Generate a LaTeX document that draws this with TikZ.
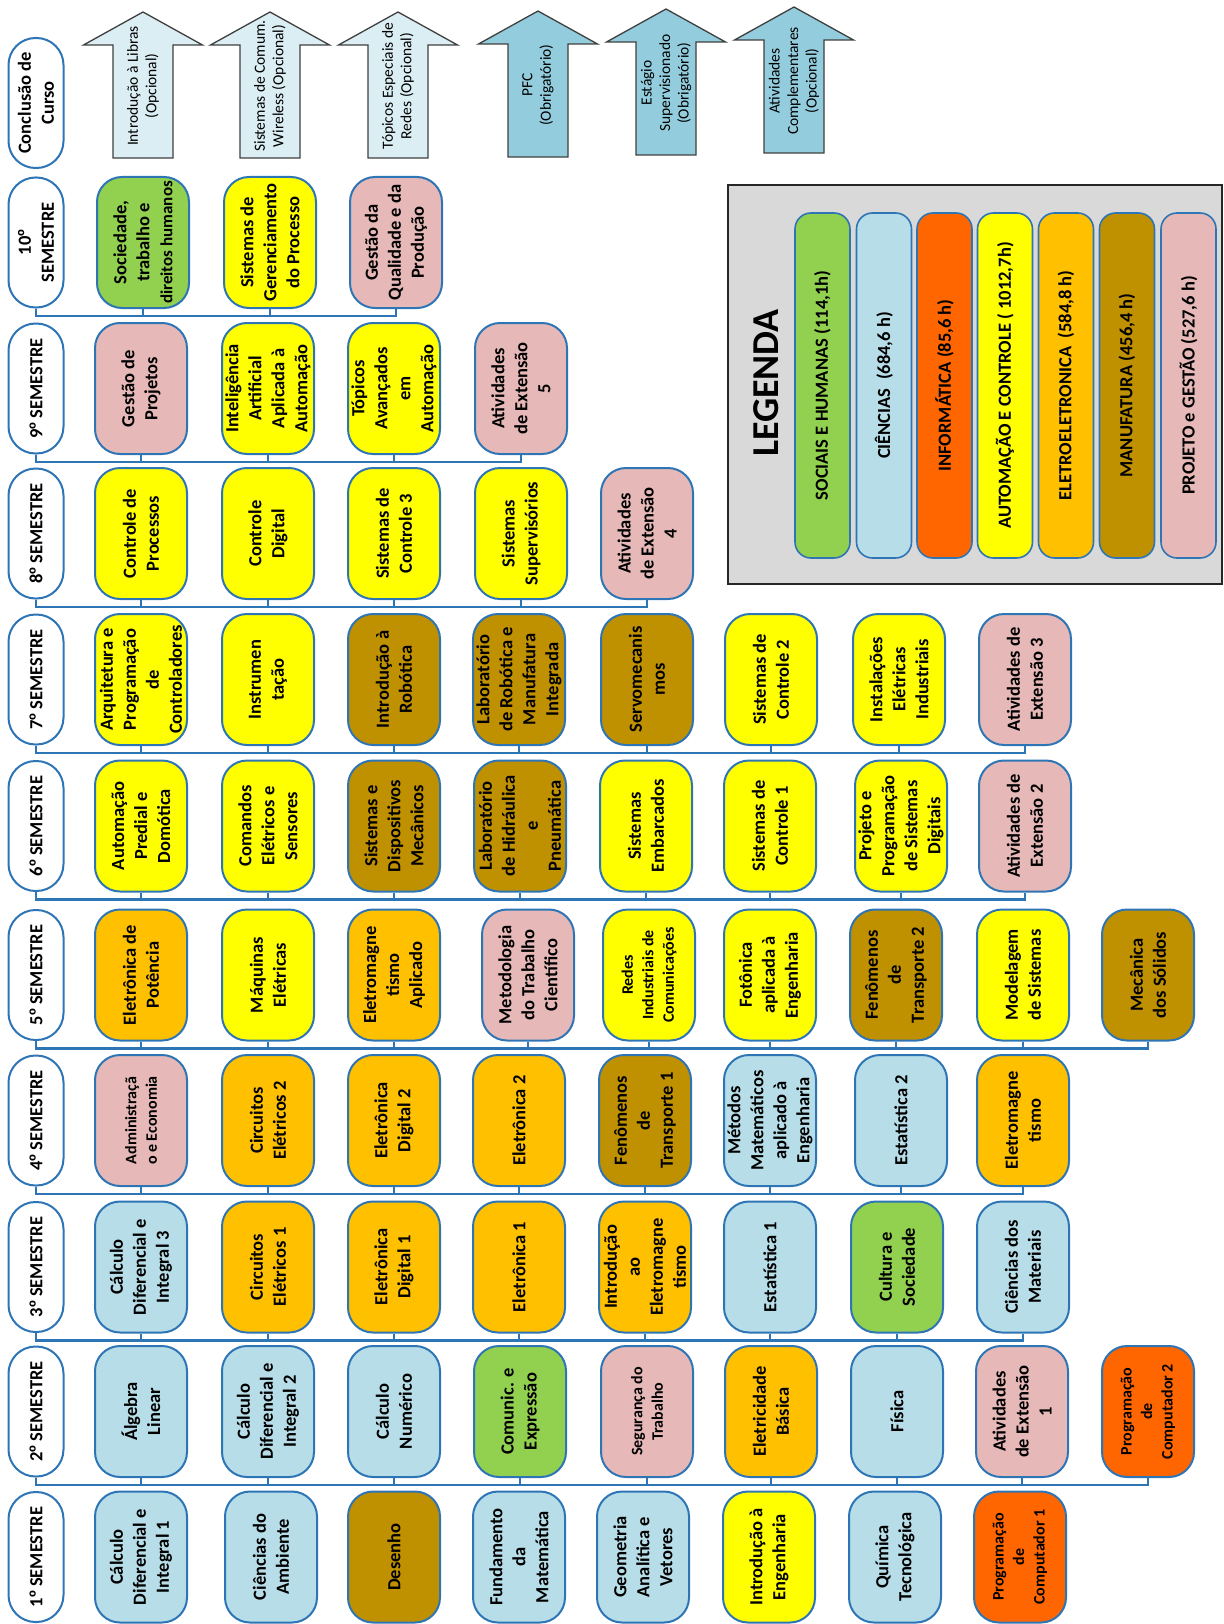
\documentclass[tikz,border=0pt]{standalone}
\usepackage{fontspec}
\setmainfont{Carlito}
\newfontfamily\ordfont{Liberation Sans}
\definecolor{bdr}{HTML}{2E75B6}
\definecolor{cCie}{HTML}{B7DEE8}
\definecolor{cSoc}{HTML}{92D050}
\definecolor{cInf}{HTML}{FF6600}
\definecolor{cAut}{HTML}{FFFF00}
\definecolor{cEle}{HTML}{FFC000}
\definecolor{cMan}{HTML}{BF9000}
\definecolor{cPro}{HTML}{E6B9B8}
\definecolor{cArrL}{HTML}{DBEEF4}
\definecolor{cArrM}{HTML}{93CDDD}
\definecolor{cLeg}{HTML}{D9D9D9}
\definecolor{arrbd}{HTML}{3F3F3F}
\newcommand\fntN{\fontsize{18.5}{23}\selectfont\bfseries}
\newcommand\fntS{\fontsize{16}{20.5}\selectfont\bfseries}
\newcommand\fntA{\fontsize{15.5}{18.5}\selectfont}
\newcommand\fntL{\fontsize{38}{40}\selectfont\bfseries}
\newcommand\fntH{\fontsize{17}{21}\selectfont\bfseries}
\newcommand\ordo{{\ordfont º}}
\tikzset{
  course/.style={draw=bdr, line width=2pt, rounded corners=25pt, rotate=90,
    minimum width=131pt, minimum height=92pt, inner sep=1pt, align=center, font=\fntN},
  bCie/.style={course, fill=cCie},
  bSoc/.style={course, fill=cSoc},
  bInf/.style={course, fill=cInf},
  bAut/.style={course, fill=cAut},
  bEle/.style={course, fill=cEle},
  bMan/.style={course, fill=cMan},
  bPro/.style={course, fill=cPro},
  small/.style={font=\fntS},
  sem/.style={draw=bdr, line width=2pt, fill=white, rounded corners=27pt, rotate=90,
    minimum width=130pt, minimum height=55pt, inner sep=1pt, align=center, font=\fntN},
  conn/.style={draw=bdr, line width=2.2pt},
  arrline/.style={draw=arrbd, line width=1.3pt},
  arrtext/.style={rotate=90, align=center, font=\fntA, inner sep=0pt},
  legbar/.style={draw=bdr, line width=1.6pt, rounded corners=16pt, rotate=90,
    minimum width=345pt, minimum height=55pt, inner sep=1pt, font=\fntN},
}
% #1 name, #2 centre x, #3 fill, #4 text, #5 vertical shift
\newcommand\bigarrow[5]{%
  \draw[arrline, fill=#3] (#2-30,158+#5) -- (#2-30,45+#5) -- (#2-59.5,45+#5) -- (#2,12+#5)
     -- (#2+59.5,45+#5) -- (#2+30,45+#5) -- (#2+30,158+#5) -- cycle;
  \node[arrtext] (#1) at (#2,86+#5) {#4};}
\begin{document}
\begin{tikzpicture}[x=1pt,y=-1pt]
\useasboundingbox (0,0) rectangle (1223,1624);

% ---------- Conclusao de curso ----------
\node[sem] (s11) at (36,103) {Conclusão de\\Curso};
\bigarrow{a1}{143}{cArrL}{Introdução à Libras\\(Opcional)}{0}
\bigarrow{a2}{270}{cArrL}{Sistemas de Comum.\\Wireless (Opcional)}{0}
\bigarrow{a3}{398}{cArrL}{Tópicos Especiais de\\Redes (Opcional)}{0}
\bigarrow{a4}{538}{cArrM}{PFC\\(Obrigatório)}{-1}
\bigarrow{a5}{666}{cArrM}{Estágio\\Supervisionado\\(Obrigatório)}{-3}
\bigarrow{a6}{794}{cArrM}{Atividades\\Complementares\\(Opcional)}{-5}

% ---------- Legend ----------
\node[draw=black!85, line width=2.5pt, fill=cLeg, minimum width=494pt, minimum height=399pt, inner sep=0pt] (legend) at (975,384.5) {};
\node[rotate=90, font=\fntL] (legtitle) at (766,383) {LEGENDA};
\node[legbar, fill=cSoc] (lg1) at (822.5,385.5) {SOCIAIS E HUMANAS (114,1h)};
\node[legbar, fill=cCie] (lg2) at (884,385.5) {CIÊNCIAS~ (684,6 h)};
\node[legbar, fill=cInf] (lg3) at (944.5,385.5) {INFORMÁTICA (85,6 h)};
\node[legbar, fill=cAut] (lg4) at (1005,385.5) {AUTOMAÇÃO E CONTROLE ( 1012,7h)};
\node[legbar, fill=cEle] (lg5) at (1066,385.5) {ELETROELETRONICA~ (584,8 h)};
\node[legbar, fill=cMan] (lg6) at (1127,385.5) {MANUFATURA (456,4 h)};
\node[legbar, fill=cPro] (lg7) at (1188.5,385.5) {PROJETO e GESTÃO (527,6 h)};

% ---------- 10 ----------
\node[sem] (s10) at (36,242.5) {10\ordo\\SEMESTRE};
\node[bSoc] (r10c1) at (143,242.5) {Sociedade,\\trabalho e\\{\fntH direitos humanos}};
\node[bAut] (r10c2) at (270,242.5) {Sistemas de\\Gerenciamento\\do Processo};
\node[bPro] (r10c3) at (396,242.5) {Gestão da\\Qualidade e da\\Produção};
\draw[conn] (s10.west) -- ++(0,7.5) -| (r10c3.west);
\foreach \c in {1,2} \draw[conn] (r10c\c.west) -- ++(0,7.5);

% ---------- 9 ----------
\node[sem] (s9) at (36,388.5) {9\ordo{} SEMESTRE};
\node[bPro] (r9c1) at (141,388.5) {Gestão de\\Projetos};
\node[bAut] (r9c2) at (268,388.5) {Inteligência\\Artificial\\Aplicada à\\Automação};
\node[bAut] (r9c3) at (394,388.5) {Tópicos\\Avançados\\em\\Automação};
\node[bPro] (r9c4) at (521,388.5) {Atividades\\de Extensão\\5};
\draw[conn] (s9.west) -- ++(0,7.5) -| (r9c4.west);
\foreach \c in {1,2,3} \draw[conn] (r9c\c.west) -- ++(0,7.5);

% ---------- 8 ----------
\node[sem] (s8) at (36,533.5) {8\ordo{} SEMESTRE};
\node[bAut] (r8c1) at (141,533.5) {Controle de\\Processos};
\node[bAut] (r8c2) at (268,533.5) {Controle\\Digital};
\node[bAut] (r8c3) at (394,533.5) {Sistemas de\\Controle 3};
\node[bAut] (r8c4) at (521,533.5) {Sistemas\\Supervisórios};
\node[bPro] (r8c5) at (647,533.5) {Atividades\\de Extensão\\4};
\draw[conn] (s8.west) -- ++(0,7.5) -| (r8c5.west);
\foreach \c in {1,...,4} \draw[conn] (r8c\c.west) -- ++(0,7.5);

% ---------- 7 ----------
\node[sem] (s7) at (36,679.5) {7\ordo{} SEMESTRE};
\node[bAut] (r7c1) at (141,679.5) {Arquitetura e\\Programação\\de\\Controladores};
\node[bAut] (r7c2) at (268,679.5) {Instrumen\\tação};
\node[bMan] (r7c3) at (394,679.5) {Introdução à\\Robótica};
\node[bMan] (r7c4) at (519,679.5) {Laboratório\\de Robótica e\\Manufatura\\Integrada};
\node[bMan] (r7c5) at (647,679.5) {Servomecanis\\mos};
\node[bAut] (r7c6) at (771,679.5) {Sistemas de\\Controle 2};
\node[bAut] (r7c7) at (899,679.5) {Instalações\\Elétricas\\Industriais};
\node[bPro] (r7c8) at (1025,679.5) {Atividades de\\Extensão 3};
\draw[conn] (s7.west) -- ++(0,7.5) -| (r7c8.west);
\foreach \c in {1,...,7} \draw[conn] (r7c\c.west) -- ++(0,7.5);

% ---------- 6 ----------
\node[sem] (s6) at (36,826) {6\ordo{} SEMESTRE};
\node[bAut] (r6c1) at (141,826) {Automação\\Predial e\\Domótica};
\node[bAut] (r6c2) at (268,826) {Comandos\\Elétricos e\\Sensores};
\node[bMan] (r6c3) at (394,826) {Sistemas e\\Dispositivos\\Mecânicos};
\node[bMan] (r6c4) at (520,826) {Laboratório\\de Hidráulica\\e\\Pneumática};
\node[bAut] (r6c5) at (646,826) {Sistemas\\Embarcados};
\node[bAut] (r6c6) at (770,826) {Sistemas de\\Controle 1};
\node[bAut] (r6c7) at (901,826) {Projeto e\\Programação\\de Sistemas\\Digitais};
\node[bPro] (r6c8) at (1025,826) {Atividades de\\Extensão 2};
\draw[conn] (s6.west) -- ++(0,7.5) -| (r6c8.west);
\foreach \c in {1,...,7} \draw[conn] (r6c\c.west) -- ++(0,7.5);

% ---------- 5 ----------
\node[sem] (s5) at (36,975) {5\ordo{} SEMESTRE};
\node[bEle] (r5c1) at (141,975) {Eletrônica de\\Potência};
\node[bAut] (r5c2) at (268,975) {Máquinas\\Elétricas};
\node[bEle] (r5c3) at (394,975) {Eletromagne\\tismo\\Aplicado};
\node[bPro] (r5c4) at (528,975) {Metodologia\\do Trabalho\\Científico};
\node[bAut, small] (r5c5) at (649,975) {Redes\\Industriais de\\Comunicações};
\node[bAut] (r5c6) at (770,975) {Fotônica\\aplicada à\\Engenharia};
\node[bMan] (r5c7) at (896,975) {Fenômenos\\de\\Transporte 2};
\node[bAut] (r5c8) at (1023,975) {Modelagem\\de Sistemas};
\node[bMan] (r5c9) at (1148,975) {Mecânica\\dos Sólidos};
\draw[conn] (s5.west) -- ++(0,7.5) -| (r5c9.west);
\foreach \c in {1,...,8} \draw[conn] (r5c\c.west) -- ++(0,7.5);

% ---------- 4 ----------
\node[sem] (s4) at (36,1120.5) {4\ordo{} SEMESTRE};
\node[bPro, small] (r4c1) at (141,1120.5) {Administraçã\\o e Economia};
\node[bEle] (r4c2) at (268,1120.5) {Circuitos\\Elétricos 2};
\node[bEle] (r4c3) at (394,1120.5) {Eletrônica\\Digital 2};
\node[bEle] (r4c4) at (519,1120.5) {Eletrônica 2};
\node[bMan] (r4c5) at (645,1120.5) {Fenômenos\\de\\Transporte 1};
\node[bCie] (r4c6) at (770,1120.5) {Métodos\\Matemáticos\\aplicado à\\Engenharia};
\node[bCie] (r4c7) at (901,1120.5) {Estatística 2};
\node[bEle] (r4c8) at (1023,1120.5) {Eletromagne\\tismo};
\draw[conn] (s4.west) -- ++(0,7.5) -| (r4c8.west);
\foreach \c in {1,...,7} \draw[conn] (r4c\c.west) -- ++(0,7.5);

% ---------- 3 ----------
\node[sem] (s3) at (36,1267) {3\ordo{} SEMESTRE};
\node[bCie] (r3c1) at (141,1267) {Cálculo\\Diferencial e\\Integral 3};
\node[bEle] (r3c2) at (268,1267) {Circuitos\\Elétricos 1};
\node[bEle] (r3c3) at (394,1267) {Eletrônica\\Digital 1};
\node[bEle] (r3c4) at (519,1267) {Eletrônica 1};
\node[bEle] (r3c5) at (645,1267) {Introdução\\ao\\Eletromagne\\tismo};
\node[bCie] (r3c6) at (770,1267) {Estatística 1};
\node[bSoc] (r3c7) at (897,1267) {Cultura e\\Sociedade};
\node[bCie] (r3c8) at (1023,1267) {Ciências dos\\Materiais};
\draw[conn] (s3.west) -- ++(0,7.5) -| (r3c8.west);
\foreach \c in {1,...,7} \draw[conn] (r3c\c.west) -- ++(0,7.5);

% ---------- 2 ----------
\node[sem] (s2) at (36,1411.5) {2\ordo{} SEMESTRE};
\node[bCie] (r2c1) at (141,1411.5) {Álgebra\\Linear};
\node[bCie] (r2c2) at (268,1411.5) {Cálculo\\Diferencial e\\Integral 2};
\node[bCie] (r2c3) at (394,1411.5) {Cálculo\\Numérico};
\node[bSoc] (r2c4) at (520,1411.5) {Comunic. e\\Expressão};
\node[bPro, small] (r2c5) at (647,1411.5) {Segurança do\\Trabalho};
\node[bEle] (r2c6) at (771,1411.5) {Eletricidade\\Básica};
\node[bCie] (r2c7) at (897,1411.5) {Física};
\node[bPro] (r2c8) at (1022,1411.5) {Atividades\\de Extensão\\1};
\node[bInf, small] (r2c9) at (1148,1411.5) {Programação\\de\\Computador 2};
\draw[conn] (s2.west) -- ++(0,7.5) -| (r2c9.west);
\foreach \c in {1,...,8} \draw[conn] (r2c\c.west) -- ++(0,7.5);

% ---------- 1 ----------
\node[sem] (s1) at (36,1557) {1\ordo{} SEMESTRE};
\node[bCie] (r1c1) at (141,1557) {Cálculo\\Diferencial e\\Integral 1};
\node[bCie] (r1c2) at (271,1557) {Ciências do\\Ambiente};
\node[bMan] (r1c3) at (394,1557) {Desenho};
\node[bCie] (r1c4) at (519,1557) {Fundamento\\da\\Matemática};
\node[bCie] (r1c5) at (643,1557) {Geometria\\Analítica e\\Vetores};
\node[bAut] (r1c6) at (769,1557) {Introdução à\\Engenharia};
\node[bCie] (r1c7) at (895,1557) {Química\\Tecnológica};
\node[bInf, small] (r1c8) at (1020,1557) {Programação\\de\\Computador 1};
\end{tikzpicture}
\end{document}
